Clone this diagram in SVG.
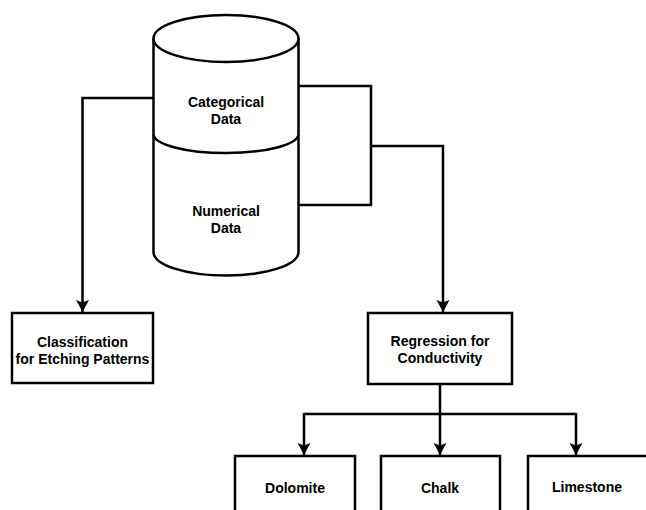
<svg xmlns="http://www.w3.org/2000/svg" width="646" height="510" viewBox="0 0 646 510">
  <style>
    .shape { fill: #ffffff; stroke: #000000; stroke-width: 2.5; }
    .line { fill: none; stroke: #000000; stroke-width: 2.5; }
    .label { font-family: "Liberation Sans", Arial, sans-serif; font-size: 14px; font-weight: bold; fill: #000000; text-anchor: middle; }
  </style>
  <defs>
    <marker id="arrow" markerWidth="14" markerHeight="14" refX="12" refY="7" orient="auto" markerUnits="userSpaceOnUse">
      <path d="M0,0.5 L12,7 L0,13.5 L2.5,7 Z" fill="#000000"/>
    </marker>
  </defs>
  <rect width="646" height="510" fill="#ffffff"/>

  <!-- connectors -->
  <g id="connectors">
    <path class="line" d="M154,98 H82.5 V312" marker-end="url(#arrow)"/>
    <path class="line" d="M298,86 H371 V205 H298"/>
    <path class="line" d="M371,146 H443 V312" marker-end="url(#arrow)"/>
    <path class="line" d="M440,384 V414"/>
    <path class="line" d="M304,414 H576"/>
    <path class="line" d="M304,413 V455" marker-end="url(#arrow)"/>
    <path class="line" d="M440,414 V455" marker-end="url(#arrow)"/>
    <path class="line" d="M576,413 V455" marker-end="url(#arrow)"/>
  </g>

  <!-- data store cylinder -->
  <g id="data-store">
    <path class="shape" d="M153.5,38.5 V252 A72.5,23.5 0 0 0 298.5,252 V38.5"/>
    <ellipse class="shape" cx="226" cy="38.5" rx="72.5" ry="23.5"/>
    <path class="line" d="M153.5,134 A72.5,19 0 0 0 298.5,134"/>
    <text class="label" x="226" y="107">Categorical</text>
    <text class="label" x="226" y="124">Data</text>
    <text class="label" x="226" y="216">Numerical</text>
    <text class="label" x="226" y="233">Data</text>
  </g>

  <g id="classification">
    <rect class="shape" x="12" y="313" width="141" height="70"/>
    <text class="label" x="82.5" y="347">Classification</text>
    <text class="label" x="82.5" y="364">for Etching Patterns</text>
  </g>

  <g id="regression">
    <rect class="shape" x="368" y="313" width="144" height="71"/>
    <text class="label" x="440" y="346">Regression for</text>
    <text class="label" x="440" y="363">Conductivity</text>
  </g>

  <g id="dolomite">
    <rect class="shape" x="235" y="456" width="120" height="70"/>
    <text class="label" x="295" y="493">Dolomite</text>
  </g>

  <g id="chalk">
    <rect class="shape" x="381" y="456" width="119" height="70"/>
    <text class="label" x="440" y="493">Chalk</text>
  </g>

  <g id="limestone">
    <rect class="shape" x="528" y="456" width="121" height="70"/>
    <text class="label" x="587" y="492">Limestone</text>
  </g>
</svg>
